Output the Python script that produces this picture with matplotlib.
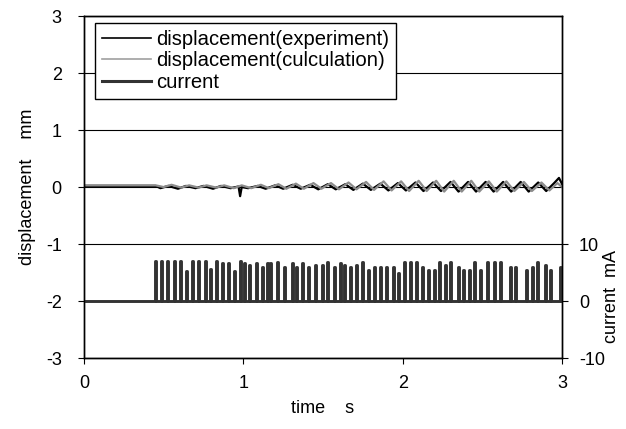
import matplotlib
matplotlib.use("Agg")
import matplotlib.pyplot as plt
from matplotlib.lines import Line2D

plt.rcParams['font.family'] = ['Liberation Sans', 'DejaVu Sans']

# displacement (experiment), mm
t_exp = [0.0, 0.45, 0.48, 0.53, 0.59, 0.64, 0.70, 0.75, 0.81, 0.86, 0.92, 0.97, 0.98, 0.99,
         1.03, 1.09, 1.14, 1.20, 1.25, 1.31, 1.36, 1.42, 1.47, 1.53, 1.58, 1.64, 1.69, 1.75,
         1.80, 1.86, 1.91, 1.97, 2.02, 2.08, 2.13, 2.19, 2.24, 2.30, 2.35, 2.41, 2.46, 2.52,
         2.57, 2.63, 2.68, 2.74, 2.79, 2.85, 2.90, 2.95, 2.98, 3.0]
d_exp = [0.02, 0.02, -0.02, 0.02, -0.03, 0.02, -0.02, 0.02, -0.03, 0.02, -0.02, 0.01, -0.16, 0.0,
         -0.02, 0.02, -0.03, 0.03, -0.03, 0.04, -0.03, 0.04, -0.04, 0.05, -0.04, 0.05, -0.05, 0.06,
         -0.05, 0.06, -0.06, 0.07, -0.06, 0.08, -0.07, 0.08, -0.07, 0.09, -0.08, 0.09, -0.08, 0.09,
         -0.08, 0.09, -0.08, 0.09, -0.08, 0.08, -0.07, 0.07, 0.16, 0.05]

# displacement (calculation), mm
t_cal = [0.0, 0.45, 0.50, 0.55, 0.61, 0.66, 0.72, 0.77, 0.83, 0.88, 0.94, 0.99, 1.05, 1.11,
         1.16, 1.22, 1.27, 1.33, 1.38, 1.44, 1.49, 1.55, 1.60, 1.66, 1.71, 1.77, 1.82, 1.88,
         1.93, 1.99, 2.04, 2.10, 2.15, 2.21, 2.26, 2.32, 2.37, 2.43, 2.48, 2.54, 2.59, 2.65,
         2.70, 2.76, 2.81, 2.87, 2.92, 2.97, 3.0]
d_cal = [0.03, 0.03, 0.0, 0.04, -0.01, 0.03, -0.01, 0.03, -0.01, 0.03, -0.02, 0.03, -0.02, 0.04,
         -0.02, 0.05, -0.03, 0.06, -0.03, 0.07, -0.03, 0.07, -0.04, 0.08, -0.04, 0.09, -0.05, 0.10,
         -0.06, 0.10, -0.07, 0.11, -0.07, 0.11, -0.08, 0.11, -0.08, 0.11, -0.08, 0.10, -0.08, 0.10,
         -0.07, 0.09, -0.07, 0.08, -0.06, 0.07, 0.0]

# current pulses: start time (s) and peak (mA)
pulse_t = [0.446, 0.483, 0.521, 0.565, 0.603, 0.640, 0.678, 0.716, 0.760, 0.791, 0.829, 0.866,
           0.904, 0.942, 0.979, 1.004, 1.036, 1.080, 1.117, 1.149, 1.168, 1.212, 1.255, 1.306,
           1.331, 1.368, 1.406, 1.450, 1.494, 1.525, 1.569, 1.607, 1.632, 1.670, 1.707, 1.745,
           1.783, 1.820, 1.858, 1.896, 1.940, 1.971, 2.009, 2.046, 2.084, 2.122, 2.159, 2.197,
           2.229, 2.266, 2.298, 2.348, 2.379, 2.417, 2.448, 2.486, 2.530, 2.574, 2.611, 2.674,
           2.706, 2.775, 2.812, 2.844, 2.894, 2.925, 2.988]
pulse_h = [7.1, 7.1, 7.1, 7.1, 7.1, 5.3, 7.1, 7.1, 7.1, 5.7, 7.1, 6.7,
           6.7, 5.3, 7.1, 6.6, 6.4, 6.7, 6.0, 6.6, 6.7, 6.9, 6.0, 6.7,
           6.0, 6.7, 5.9, 6.4, 6.4, 6.9, 6.0, 6.7, 6.4, 5.9, 6.4, 6.9,
           5.5, 5.9, 6.0, 6.0, 5.9, 5.0, 6.9, 6.9, 6.9, 5.9, 5.5, 5.5,
           6.9, 6.4, 6.9, 6.0, 5.5, 5.5, 6.9, 5.5, 6.9, 6.9, 6.9, 6.0,
           6.0, 5.5, 6.0, 6.9, 6.4, 5.5, 5.9]
pulse_w = 0.006

# build current trace
cur_t = [0.0]
cur_i = [0.0]
for t0, h in zip(pulse_t, pulse_h):
    cur_t += [t0, t0, t0 + pulse_w, t0 + pulse_w]
    cur_i += [0.0, h, h, 0.0]
cur_t.append(3.0)
cur_i.append(0.0)

fig = plt.figure(figsize=(6.26, 4.29), dpi=100)
ax = fig.add_axes([0.134, 0.1655, 0.764, 0.797])
ax2 = ax.twinx()

ax.plot(t_exp, d_exp, color='black', lw=1.6)
ax.plot(t_cal, d_cal, color='#8c8c8c', lw=1.6)
ax2.plot(cur_t, cur_i, color='#333333', lw=2.1, solid_joinstyle='round',
         solid_capstyle='round')

ax.set_xlim(0, 3)
ax.set_ylim(-3, 3)
ax.set_xticks([0, 1, 2, 3])
ax.set_yticks([-3, -2, -1, 0, 1, 2, 3])
ax.set_yticklabels(['-3', '-2', '-1', '0', '1', '2', '3'])
ax.grid(axis='y', color='black', lw=0.8)
ax.set_axisbelow(True)
ax2.set_ylim(-10, 50)
ax2.set_yticks([-10, 0, 10])
ax2.set_yticklabels(['-10', '0', '10'])

for a in (ax, ax2):
    a.tick_params(direction='out', length=4, labelsize=13, width=0.8)
    for s in a.spines.values():
        s.set_linewidth(1.0)
        s.set_color('black')
ax.tick_params(axis='y', pad=12)
ax.tick_params(axis='x', pad=8)
ax2.tick_params(axis='y', pad=8)

ax.set_xlabel('time    s', fontsize=13, labelpad=6)
ax.set_ylabel('displacement    mm', fontsize=13, labelpad=7)
ax2.set_ylabel('current  mA', fontsize=13, labelpad=-1, y=0.18)

handles = [Line2D([], [], color='black', lw=1.2),
           Line2D([], [], color='#a0a0a0', lw=1.2),
           Line2D([], [], color='#333333', lw=2.2)]
labels = ['displacement(experiment)', 'displacement(culculation)', 'current']
leg = ax2.legend(handles, labels, loc='upper left', bbox_to_anchor=(0.023, 0.98),
                 fontsize=14.6, frameon=True, fancybox=False, framealpha=1,
                 edgecolor='black', handlelength=2.4, handletextpad=0.25,
                 labelspacing=0.12, borderpad=0.35, borderaxespad=0.0)
leg.get_frame().set_linewidth(1.0)

fig.savefig('out.png', dpi=100)
